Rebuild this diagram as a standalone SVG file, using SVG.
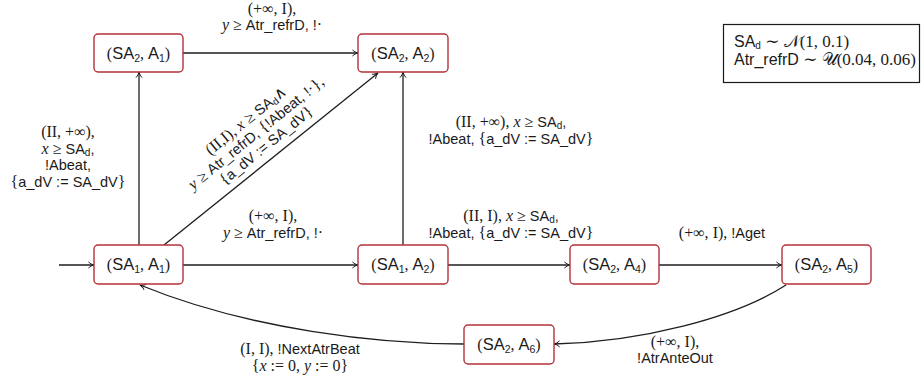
<svg xmlns="http://www.w3.org/2000/svg" width="921" height="379" viewBox="0 0 921 379">
<style>
  .box { fill: #ffffff; stroke: #b3323a; stroke-width: 1.4; }
  .edge { fill: none; stroke: #1e1e1e; stroke-width: 1.3; marker-end: url(#arr); }
  text { font-family: "Liberation Sans", "DejaVu Sans", sans-serif; fill: #1a1a1a; }
  .nl { font-size: 16.5px; text-anchor: middle; }
  .el { font-size: 14.5px; text-anchor: middle; }
  .m { font-family: "Liberation Serif", "DejaVu Serif", serif; font-size: 16px; }
  .i { font-family: "Liberation Serif", "DejaVu Serif", serif; font-style: italic; font-size: 16px; }
  .b { font-family: "Liberation Serif", "DejaVu Serif", serif; font-size: 16px; }
  .s { font-size: 10.5px; }
  .sd { font-size: 10px; }
  .legend { fill: #ffffff; stroke: #1a1a1a; stroke-width: 1.2; }
  .lg { font-size: 16px; }
  .lg .m { font-size: 17px; }
</style>
<defs>
  <marker id="arr" viewBox="0 0 10 10" refX="9" refY="5" markerWidth="8" markerHeight="8" orient="auto" markerUnits="userSpaceOnUse">
    <path d="M2,1.2 Q5,4.2 9,5 Q5,5.8 2,8.8" fill="none" stroke="#1e1e1e" stroke-width="1.2"/>
  </marker>
</defs>

<!-- connectors -->
<g id="connectors">
  <path class="edge" d="M59,265 L94,265"/>
  <path class="edge" d="M183,265 L358,265"/>
  <path class="edge" d="M448,265 L570,265"/>
  <path class="edge" d="M659,265 L782,265"/>
  <path class="edge" d="M183,53 L358,53"/>
  <path class="edge" d="M139,245 L139,72"/>
  <path class="edge" d="M403,245 L403,72"/>
  <path class="edge" d="M164,245 L378,73"/>
  <path class="edge" d="M786,285 C735,318 640,342 554,344"/>
  <path class="edge" d="M464,344 C380,344 250,330 140,285"/>
</g>

<!-- edge labels -->
<g id="edge-labels">
  <text class="el" x="272" y="14"><tspan class="m">(+∞, </tspan><tspan class="b">I</tspan><tspan class="m">),</tspan></text>
  <text class="el" x="272" y="30"><tspan class="i">y</tspan><tspan class="m"> ≥ </tspan>Atr_refrD,  !<tspan class="m">·</tspan></text>

  <text class="el" x="68" y="137"><tspan class="m">(</tspan><tspan class="b">II</tspan><tspan class="m">, +∞),</tspan></text>
  <text class="el" x="68" y="154"><tspan class="i">x</tspan><tspan class="m"> ≥ </tspan>SA<tspan class="sd" dy="2">d</tspan><tspan dy="-2">,</tspan></text>
  <text class="el" x="68" y="170">!Abeat,</text>
  <text class="el" x="68" y="187"><tspan class="m">{</tspan>a_dV := SA_dV<tspan class="m">}</tspan></text>

  <text class="el" x="511" y="127"><tspan class="m">(</tspan><tspan class="b">II</tspan><tspan class="m">, +∞),  </tspan><tspan class="i">x</tspan><tspan class="m"> ≥ </tspan>SA<tspan class="sd" dy="2">d</tspan><tspan dy="-2">,</tspan></text>
  <text class="el" x="511" y="144">!Abeat,  <tspan class="m">{</tspan>a_dV := SA_dV<tspan class="m">}</tspan></text>

  <text class="el" x="273" y="221"><tspan class="m">(+∞, </tspan><tspan class="b">I</tspan><tspan class="m">),</tspan></text>
  <text class="el" x="273" y="238"><tspan class="i">y</tspan><tspan class="m"> ≥ </tspan>Atr_refrD,  !<tspan class="m">·</tspan></text>

  <text class="el" x="511" y="221"><tspan class="m">(</tspan><tspan class="b">II</tspan><tspan class="m">, </tspan><tspan class="b">I</tspan><tspan class="m">),  </tspan><tspan class="i">x</tspan><tspan class="m"> ≥ </tspan>SA<tspan class="sd" dy="2">d</tspan><tspan dy="-2">,</tspan></text>
  <text class="el" x="511" y="238">!Abeat,  <tspan class="m">{</tspan>a_dV := SA_dV<tspan class="m">}</tspan></text>

  <text class="el" x="722" y="238"><tspan class="m">(+∞, </tspan><tspan class="b">I</tspan><tspan class="m">),  </tspan>!Aget</text>

  <text class="el" x="675" y="347"><tspan class="m">(+∞, </tspan><tspan class="b">I</tspan><tspan class="m">),</tspan></text>
  <text class="el" x="675" y="363">!AtrAnteOut</text>

  <text class="el" x="300" y="354"><tspan class="m">(</tspan><tspan class="b">I</tspan><tspan class="m">, </tspan><tspan class="b">I</tspan><tspan class="m">),  </tspan>!NextAtrBeat</text>
  <text class="el" x="300" y="371"><tspan class="m">{</tspan><tspan class="i">x</tspan><tspan class="m"> := 0, </tspan><tspan class="i">y</tspan><tspan class="m"> := 0}</tspan></text>

  <g transform="translate(256,133) rotate(-39)">
    <text class="el" x="0" y="-11"><tspan class="m">(</tspan><tspan class="b">II</tspan><tspan class="m">,</tspan><tspan class="b">I</tspan><tspan class="m">),  </tspan><tspan class="i">x</tspan><tspan class="m"> ≥ </tspan>SA<tspan class="sd" dy="2">d</tspan><tspan class="m" dy="-2">∧</tspan></text>
    <text class="el" x="0" y="5"><tspan class="i">y</tspan><tspan class="m"> ≥ </tspan>Atr_refrD,  <tspan class="m">{</tspan>!Abeat, !<tspan class="m">·},</tspan></text>
    <text class="el" x="0" y="21"><tspan class="m">{</tspan>a_dV := SA_dV<tspan class="m">}</tspan></text>
  </g>
</g>

<!-- states -->
<g id="s2a1">
  <rect class="box" x="94" y="34" width="89" height="38" rx="4"/>
  <text class="nl" x="138.5" y="58.5"><tspan class="m">(</tspan>SA<tspan class="s" dy="3">2</tspan><tspan class="m" dy="-3">, </tspan>A<tspan class="s" dy="3">1</tspan><tspan class="m" dy="-3">)</tspan></text>
</g>
<g id="s2a2">
  <rect class="box" x="358" y="34" width="90" height="38" rx="4"/>
  <text class="nl" x="403" y="58.5"><tspan class="m">(</tspan>SA<tspan class="s" dy="3">2</tspan><tspan class="m" dy="-3">, </tspan>A<tspan class="s" dy="3">2</tspan><tspan class="m" dy="-3">)</tspan></text>
</g>
<g id="s1a1">
  <rect class="box" x="94" y="245" width="89" height="39" rx="4"/>
  <text class="nl" x="138.5" y="270"><tspan class="m">(</tspan>SA<tspan class="s" dy="3">1</tspan><tspan class="m" dy="-3">, </tspan>A<tspan class="s" dy="3">1</tspan><tspan class="m" dy="-3">)</tspan></text>
</g>
<g id="s1a2">
  <rect class="box" x="358" y="245" width="90" height="39" rx="4"/>
  <text class="nl" x="403" y="270"><tspan class="m">(</tspan>SA<tspan class="s" dy="3">1</tspan><tspan class="m" dy="-3">, </tspan>A<tspan class="s" dy="3">2</tspan><tspan class="m" dy="-3">)</tspan></text>
</g>
<g id="s2a4">
  <rect class="box" x="570" y="245" width="89" height="39" rx="4"/>
  <text class="nl" x="614.5" y="270"><tspan class="m">(</tspan>SA<tspan class="s" dy="3">2</tspan><tspan class="m" dy="-3">, </tspan>A<tspan class="s" dy="3">4</tspan><tspan class="m" dy="-3">)</tspan></text>
</g>
<g id="s2a5">
  <rect class="box" x="782" y="245" width="89" height="39" rx="4"/>
  <text class="nl" x="826.5" y="270"><tspan class="m">(</tspan>SA<tspan class="s" dy="3">2</tspan><tspan class="m" dy="-3">, </tspan>A<tspan class="s" dy="3">5</tspan><tspan class="m" dy="-3">)</tspan></text>
</g>
<g id="s2a6">
  <rect class="box" x="464" y="325" width="90" height="39" rx="4"/>
  <text class="nl" x="509" y="350"><tspan class="m">(</tspan>SA<tspan class="s" dy="3">2</tspan><tspan class="m" dy="-3">, </tspan>A<tspan class="s" dy="3">6</tspan><tspan class="m" dy="-3">)</tspan></text>
</g>

<!-- distributions -->
<g id="legend">
  <rect class="legend" x="723.5" y="24.5" width="196" height="58"/>
  <text class="lg" x="734" y="47">SA<tspan class="sd" dy="2">d</tspan><tspan class="m" dy="-2"> ∼ 𝒩(1, 0.1)</tspan></text>
  <text class="lg" x="734" y="65">Atr_refrD<tspan class="m"> ∼ 𝒰(0.04, 0.06)</tspan></text>
</g>
</svg>
